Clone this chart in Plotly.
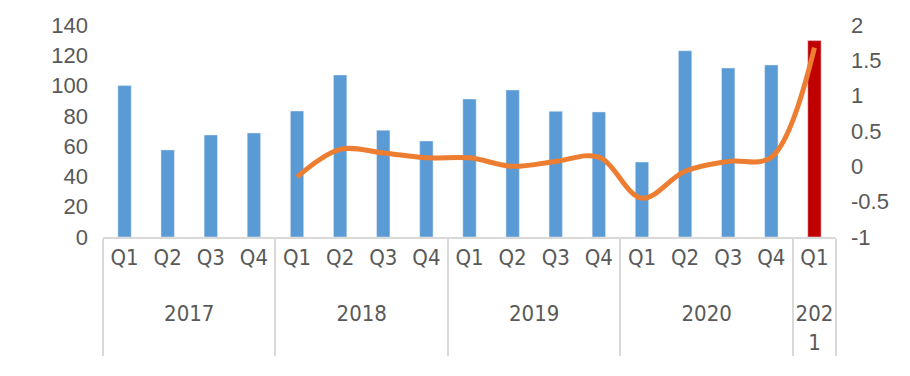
import plotly.graph_objects as go

years = ["<br>2017"] * 4 + ["<br>2018"] * 4 + ["<br>2019"] * 4 + ["<br>2020"] * 4 + ["<br>202<br>1"]
quarters = ["Q1", "Q2", "Q3", "Q4"] * 4 + ["Q1"]
bar_values = [100, 57.5, 67.4, 68.7,
              83.2, 107, 70.5, 63.4,
              91.1, 97.1, 83, 82.6,
              49.5, 123, 111.6, 113.6,
              129.7]
line_values = [None, None, None, None,
               -0.15, 0.24, 0.19, 0.12,
               0.12, 0.0, 0.07, 0.13,
               -0.45, -0.07, 0.07, 0.13,
               1.68]
left_ticks = [0, 20, 40, 60, 80, 100, 120, 140]
right_ticks = [-1, -0.5, 0, 0.5, 1, 1.5, 2]
right_ticktext = ["-1", "-0.5", "0", "0.5", "1", "1.5", "2"]

bar_colors = ["#5B9BD5"] * 16 + ["#C00000"]

font = dict(family="Liberation Sans, Arial, sans-serif", size=22, color="#595959")
xfont = dict(family="Liberation Sans Narrow, DejaVu Sans Condensed, Liberation Sans, sans-serif",
             size=22, color="#595959")

fig = go.Figure()
fig.add_trace(go.Bar(x=[years, quarters], y=bar_values, marker_color=bar_colors,
                     width=0.31, showlegend=False))
fig.add_trace(go.Scatter(x=[years, quarters], y=line_values, yaxis="y2", mode="lines",
                         line=dict(color="#ED7D31", width=5, shape="spline", smoothing=1),
                         connectgaps=False, showlegend=False))

fig.update_layout(
    width=902, height=368,
    margin=dict(l=95, r=74, t=17, b=139, autoexpand=False),
    plot_bgcolor="white", paper_bgcolor="white",
    font=font,
    xaxis=dict(type="multicategory", showline=True, linecolor="#D9D9D9", linewidth=2,
               dividercolor="#D9D9D9", dividerwidth=2, showgrid=False,
               tickfont=xfont, ticks="", automargin=False),
    yaxis=dict(range=[0, 140], tickvals=left_ticks, showgrid=False, zeroline=False,
               showline=False, tickfont=font, ticklabelstandoff=14, automargin=False),
    yaxis2=dict(range=[-1, 2], tickvals=right_ticks, ticktext=right_ticktext,
                overlaying="y", side="right", showgrid=False, zeroline=False,
                showline=False, tickfont=font, ticklabelstandoff=14, automargin=False),
)

fig.write_html("out.html")
